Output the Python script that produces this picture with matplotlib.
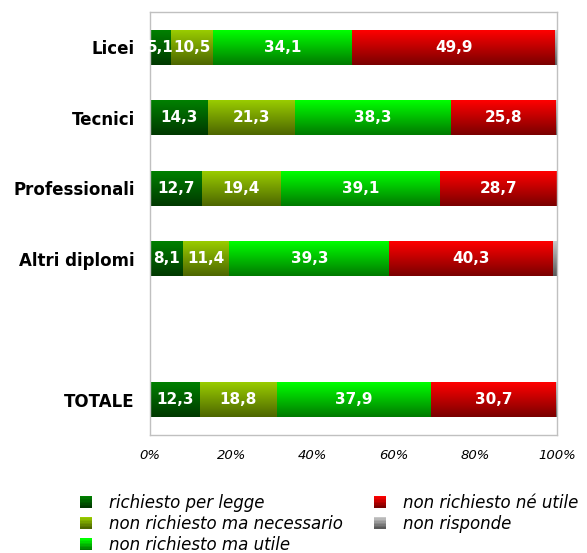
import numpy as np
import matplotlib
matplotlib.use("Agg")
import matplotlib.pyplot as plt
from matplotlib.patches import Rectangle
from matplotlib.legend_handler import HandlerBase
from matplotlib.colors import to_rgb

categories = ["Licei", "Tecnici", "Professionali", "Altri diplomi", "", "TOTALE"]
series_names = ["richiesto per legge", "non richiesto ma necessario",
                "non richiesto ma utile", "non richiesto né utile", "non risponde"]
per_legge = [5.1, 14.3, 12.7, 8.1, None, 12.3]
necessario = [10.5, 21.3, 19.4, 11.4, None, 18.8]
utile = [34.1, 38.3, 39.1, 39.3, None, 37.9]
ne_utile = [49.9, 25.8, 28.7, 40.3, None, 30.7]
non_risponde = [0.4, 0.3, 0.1, 0.9, None, 0.3]
xtick_labels = ["0%", "20%", "40%", "60%", "80%", "100%"]

series = [per_legge, necessario, utile, ne_utile, non_risponde]
grad = [("#008000", "#003800"), ("#99cc00", "#4d6600"), ("#00ff00", "#007a00"),
        ("#ff0000", "#7a0000"), ("#c8c8c8", "#5a5a5a")]


def gradient_array(top, bottom, n=64):
    t = np.linspace(0, 1, n)[:, None]
    a = np.array(to_rgb(top))[None, :]
    b = np.array(to_rgb(bottom))[None, :]
    return (a * (1 - t) + b * t)[:, None, :]


fig = plt.figure(figsize=(5.87, 5.53), dpi=100)
ax = fig.add_axes([150 / 587, 1 - 435 / 553, 407 / 587, 423 / 553])

ypos = np.arange(len(categories))
left = np.zeros(len(categories))
bar_h = 0.49
for si, vals in enumerate(series):
    v = np.array([0 if x is None else x for x in vals], dtype=float)
    bars = ax.barh(ypos, v, left=left, height=bar_h, color="none", edgecolor="none")
    for bi, p in enumerate(bars.patches):
        if v[bi] <= 0:
            continue
        x0, y0 = p.get_x(), p.get_y()
        w, h = p.get_width(), p.get_height()
        ax.imshow(gradient_array(*grad[si]), extent=(x0, x0 + w, y0 + h, y0),
                  origin="upper", aspect="auto", interpolation="bilinear", zorder=2)
        if si < 4:
            ax.text(x0 + w / 2, y0 + h / 2, f"{v[bi]:.1f}".replace(".", ","),
                    ha="center", va="center", color="white", fontsize=11,
                    fontweight="bold", zorder=3)
    left += v

ax.set_xlim(0, 100)
ax.set_ylim(5.5, -0.5)
ax.set_yticks(ypos)
ax.set_yticklabels(categories, fontsize=12, fontweight="bold")
ax.set_xticks(np.arange(0, 101, 20))
ax.set_xticklabels(xtick_labels, fontsize=9.5, fontstyle="italic")
ax.tick_params(axis="both", length=0)
ax.tick_params(axis="x", pad=10)
ax.tick_params(axis="y", pad=11)
for s in ax.spines.values():
    s.set_color("#c0c0c0")
    s.set_linewidth(1)


class GradHandler(HandlerBase):
    def create_artists(self, legend, orig_handle, xdescent, ydescent, width,
                       height, fontsize, trans):
        top, bottom = orig_handle.grad
        size = 8.6
        x0 = -xdescent + (width - size) / 2
        y0 = -ydescent + (height - size) / 2
        arts = []
        n = 8
        cols = gradient_array(top, bottom, n)[:, 0, :]
        for i in range(n):
            r = Rectangle((x0, y0 + size - (i + 1) * size / n), size, size / n + 0.2,
                          facecolor=cols[i], edgecolor="none", transform=trans)
            arts.append(r)
        return arts


handles = []
for g in grad:
    h = Rectangle((0, 0), 1, 1)
    h.grad = g
    handles.append(h)

leg = fig.legend(handles, series_names, handler_map={Rectangle: GradHandler()},
                 loc="upper left", bbox_to_anchor=(66 / 587, 1 - 482 / 553),
                 ncol=2, frameon=False, prop={"size": 12, "style": "italic"},
                 handlelength=1.0, handletextpad=0.9, labelspacing=0.2,
                 columnspacing=1.7, borderpad=0.2)

fig.savefig("out.png", dpi=100)
